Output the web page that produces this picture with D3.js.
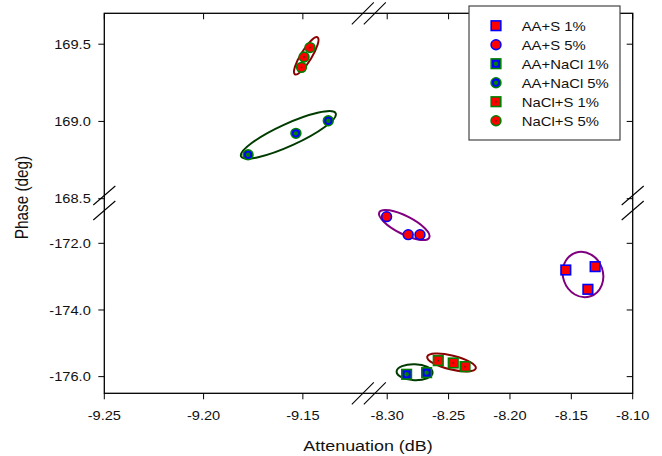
<!DOCTYPE html>
<html>
<head>
<meta charset="utf-8">
<script src="https://cdn.jsdelivr.net/npm/d3@7"></script>
<style>
  body { margin: 0; background: #fff; }
  svg { font-family: "Liberation Sans", Arial, sans-serif; }
</style>
</head>
<body>
<svg id="chart" width="662" height="456"></svg>
<script>
// Series data (attenuation dB, phase deg)
var seriesNames = ["AA+S 1%", "AA+S 5%", "AA+NaCl 1%", "AA+NaCl 5%", "NaCl+S 1%", "NaCl+S 5%"];
var aas1_x = [-8.1545, -8.1306, -8.1365];
var aas1_y = [-172.80, -172.70, -173.38];
var aas5_x = [-8.3005, -8.2829, -8.2733];
var aas5_y = [-171.20, -171.74, -171.74];
var aanacl1_x = [-8.2842, -8.2679];
var aanacl1_y = [-175.93, -175.88];
var aanacl5_x = [-9.1776, -9.1535, -9.1372];
var aanacl5_y = [168.784, 168.923, 169.004];
var nacls1_x = [-8.2584, -8.2462, -8.2366];
var nacls1_y = [-175.52, -175.59, -175.70];
var nacls5_x = [-9.1507, -9.1494, -9.1464];
var nacls5_y = [169.350, 169.417, 169.478];

// Group ellipse centres (data units)
var ellipseCx = [-8.1405, -8.2861, -8.2777, -9.1573, -8.2476, -9.1483];
var ellipseCy = [-172.936, -171.45, -175.867, 168.913, -175.576, 169.425];

// Tick values
var xLeftTicks = [-9.25, -9.20, -9.15];
var xRightTicks = [-8.30, -8.25, -8.20, -8.15, -8.10];
var yTopTicks = [168.5, 169.0, 169.5];
var yBotTicks = [-176.0, -174.0, -172.0];

document.addEventListener("DOMContentLoaded", function() {
  var svg = d3.select("#chart");

  // plot frame
  var pLeft = 104.3, pRight = 632.7, pTop = 13.3, pBottom = 393.3;
  var xBreak = 368.8, yBreak = 203;
  var stretch = 1.17; // the original text is a bit wide

  // broken axes -> two scales each
  var xLeft = d3.scaleLinear().domain([-9.25, -9.1168]).range([pLeft, xBreak]);
  var xRight = d3.scaleLinear().domain([-8.315, -8.10]).range([xBreak, pRight]);
  var yTop = d3.scaleLinear().domain([168.472, 169.7]).range([yBreak, pTop]);
  var yBot = d3.scaleLinear().domain([-176.5, -170.79]).range([pBottom, yBreak]);

  function xs(v) { return v < -8.7 ? xLeft(v) : xRight(v); }
  function ys(v) { return v > 0 ? yTop(v) : yBot(v); }

  function addText(parent, x, y, str, size, anchor, rot) {
    return parent.append("text")
      .attr("transform", "translate(" + x + "," + y + ") scale(" + stretch + ",1)" + (rot ? " rotate(" + rot + ")" : ""))
      .attr("text-anchor", anchor)
      .attr("font-size", size)
      .attr("fill", "#111")
      .text(str);
  }

  // styles per series
  var styles = [
    {shape: "square", fill: "#ff0000", stroke: "#0000ff", dot: null},
    {shape: "circle", fill: "#ff0000", stroke: "#0000ff", dot: null},
    {shape: "square", fill: "#0000ff", stroke: "#008000", dot: "#008000"},
    {shape: "circle", fill: "#0000ff", stroke: "#008000", dot: "#008000"},
    {shape: "square", fill: "#ff0000", stroke: "#008000", dot: "#5a3000"},
    {shape: "circle", fill: "#ff0000", stroke: "#008000", dot: "#5a3000"}
  ];
  var ellipseColors = ["#800080", "#800080", "#003c00", "#003c00", "#8b0000", "#8b0000"];
  // ellipse shape in pixels: [rx, ry, rotation]
  var ellipseShape = [[20, 23, -19], [28, 9, 27], [18, 8, 2], [52, 11, -24.5], [25, 7, 13.5], [21.7, 5.5, -58.5]];

  var seriesX = [aas1_x, aas5_x, aanacl1_x, aanacl5_x, nacls1_x, nacls5_x];
  var seriesY = [aas1_y, aas5_y, aanacl1_y, aanacl5_y, nacls1_y, nacls5_y];

  var g = svg.append("g");

  // ellipses
  g.selectAll(".ell")
    .data(ellipseCx)
    .enter()
    .append("ellipse")
      .attr("transform", function(d, i) {
        return "translate(" + xs(d) + "," + ys(ellipseCy[i]) + ") rotate(" + ellipseShape[i][2] + ")";
      })
      .attr("rx", function(d, i) { return ellipseShape[i][0]; })
      .attr("ry", function(d, i) { return ellipseShape[i][1]; })
      .attr("fill", "none")
      .attr("stroke", function(d, i) { return ellipseColors[i]; })
      .attr("stroke-width", 2);

  function drawMarker(sel, st, cx, cy) {
    if (st.shape == "square") {
      sel.append("rect")
        .attr("x", cx - 4.8).attr("y", cy - 4.8)
        .attr("width", 9.6).attr("height", 9.6)
        .attr("fill", st.fill).attr("stroke", st.stroke).attr("stroke-width", 1.6);
    } else {
      sel.append("circle")
        .attr("cx", cx).attr("cy", cy).attr("r", 4.9)
        .attr("fill", st.fill).attr("stroke", st.stroke).attr("stroke-width", 1.6);
    }
    if (st.dot) {
      sel.append("circle")
        .attr("cx", cx).attr("cy", cy)
        .attr("r", st.dot == "#008000" ? 2.2 : 0.9)
        .attr("fill", st.dot);
    }
  }

  // points
  seriesX.forEach(function(xarr, i) {
    xarr.forEach(function(xv, j) {
      drawMarker(g, styles[i], xs(xv), ys(seriesY[i][j]));
    });
  });

  // frame
  svg.append("rect")
    .attr("x", pLeft).attr("y", pTop)
    .attr("width", pRight - pLeft).attr("height", pBottom - pTop)
    .attr("fill", "none").attr("stroke", "#000").attr("stroke-width", 1.3);

  // ticks and labels
  var axis = svg.append("g");

  function xTick(scale, v) {
    var x = scale(v);
    axis.append("line").attr("x1", x).attr("x2", x).attr("y1", pBottom).attr("y2", pBottom + 6)
      .attr("stroke", "#000");
    axis.append("line").attr("x1", x).attr("x2", x).attr("y1", pTop).attr("y2", pTop + 6)
      .attr("stroke", "#000");
    addText(axis, x, pBottom + 26.5, v.toFixed(2), 12.5, "middle");
  }
  xLeftTicks.forEach(function(v) { xTick(xLeft, v); });
  xRightTicks.forEach(function(v) { xTick(xRight, v); });

  function yTick(scale, v) {
    var y = scale(v);
    axis.append("line").attr("x1", pLeft - 6).attr("x2", pLeft).attr("y1", y).attr("y2", y)
      .attr("stroke", "#000");
    axis.append("line").attr("x1", pRight - 6).attr("x2", pRight).attr("y1", y).attr("y2", y)
      .attr("stroke", "#000");
    addText(axis, pLeft - 13.5, y + 4.8, v.toFixed(1), 12.5, "end");
  }
  yTopTicks.forEach(function(v) { yTick(yTop, v); });
  yBotTicks.forEach(function(v) { yTick(yBot, v); });

  // break marks
  function slashPair(cx, cy, dx, dy, ox, oy) {
    [-1, 1].forEach(function(s) {
      svg.append("line")
        .attr("x1", cx + s * ox - dx).attr("y1", cy + s * oy + dy)
        .attr("x2", cx + s * ox + dx).attr("y2", cy + s * oy - dy)
        .attr("stroke", "#000").attr("stroke-width", 1.1);
    });
  }
  slashPair(xBreak, pTop, 11, 11, 6, 0);
  slashPair(xBreak, pBottom, 11, 11, 6, 0);
  slashPair(pLeft, yBreak, 11, 9.5, 0, 7.5);
  slashPair(pRight, yBreak, 11, 9.5, 0, 7.5);

  // axis titles
  addText(svg, 368, 451, "Attenuation (dB)", 15.3, "middle");
  addText(svg, 27.5, 197.5, "Phase (deg)", 15.3, "middle", -90);

  // legend
  var legend = svg.append("g");
  legend.append("rect")
    .attr("x", 469).attr("y", 6).attr("width", 151).attr("height", 134)
    .attr("fill", "#fff").attr("stroke", "#444").attr("stroke-width", 1.2);
  seriesNames.forEach(function(name, i) {
    var ly = 25.7 + i * 19;
    drawMarker(legend, styles[i], 496, ly);
    addText(legend, 521.7, ly + 5, name, 12.7, "start");
  });
});
</script>
</body>
</html>
